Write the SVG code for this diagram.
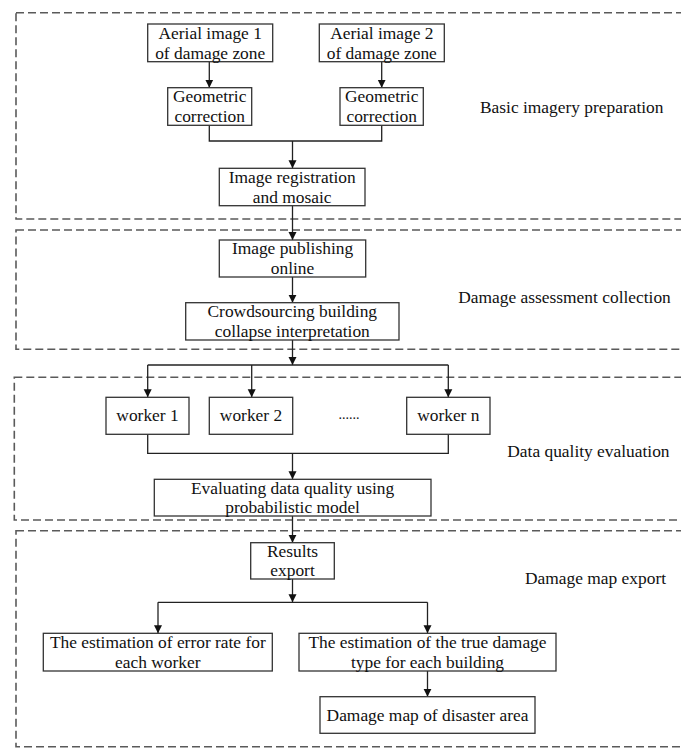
<svg xmlns="http://www.w3.org/2000/svg" width="681" height="749" viewBox="0 0 681 749">
<style>
.bg{fill:#ffffff}
.sec{fill:none;stroke:#5a5a5a;stroke-width:1.6;stroke-dasharray:8 4}
.box{fill:#ffffff;stroke:#333333;stroke-width:1.3}
.t{font-family:"Liberation Serif","Times New Roman",serif;font-size:17.4px;fill:#111111;text-anchor:middle}
.lab{font-family:"Liberation Serif","Times New Roman",serif;font-size:17.4px;fill:#111111}
.c{fill:none;stroke:#222222;stroke-width:1.3}
</style>
<defs>
<marker id="ah" viewBox="0 0 8 10" refX="8" refY="5" markerWidth="8" markerHeight="10" markerUnits="userSpaceOnUse" orient="auto">
<path d="M0,1 L8,5 L0,9 z" fill="#111111"/>
</marker>
</defs>
<rect class="bg" x="0" y="0" width="681" height="749"/>

<g id="sections">
<rect class="sec" x="16" y="12.7" width="680" height="206.3"/>
<rect class="sec" x="16" y="230" width="680" height="119.3"/>
<rect class="sec" x="14.3" y="377.3" width="680" height="142.7"/>
<rect class="sec" x="16" y="530.7" width="680" height="216"/>
<text class="lab" x="480" y="113">Basic imagery preparation</text>
<text class="lab" x="458.3" y="302.7">Damage assessment collection</text>
<text class="lab" x="507.3" y="456.7">Data quality evaluation</text>
<text class="lab" x="525" y="584">Damage map export</text>
</g>

<g id="connectors">
<line class="c" x1="209.3" y1="61.7" x2="209.3" y2="87.7" marker-end="url(#ah)"/>
<line class="c" x1="381.7" y1="61.7" x2="381.7" y2="87.7" marker-end="url(#ah)"/>
<polyline class="c" points="209.3,125.3 209.3,141 381.7,141 381.7,125.3"/>
<line class="c" x1="292.5" y1="141" x2="292.5" y2="168.3" marker-end="url(#ah)"/>
<line class="c" x1="292.5" y1="205.7" x2="292.5" y2="240" marker-end="url(#ah)"/>
<line class="c" x1="292.5" y1="277" x2="292.5" y2="302.7" marker-end="url(#ah)"/>
<line class="c" x1="292.5" y1="340" x2="292.5" y2="365" marker-end="url(#ah)"/>
<line class="c" x1="147.7" y1="365" x2="448.3" y2="365"/>
<line class="c" x1="147.7" y1="365" x2="147.7" y2="397.3" marker-end="url(#ah)"/>
<line class="c" x1="251.7" y1="365" x2="251.7" y2="397.3" marker-end="url(#ah)"/>
<line class="c" x1="448.3" y1="365" x2="448.3" y2="397.3" marker-end="url(#ah)"/>
<polyline class="c" points="147.7,434.3 147.7,453.3 448.3,453.3 448.3,434.3"/>
<line class="c" x1="292.5" y1="453.3" x2="292.5" y2="479.3" marker-end="url(#ah)"/>
<line class="c" x1="292.5" y1="516" x2="292.5" y2="542.7" marker-end="url(#ah)"/>
<line class="c" x1="292.5" y1="579" x2="292.5" y2="602.3" marker-end="url(#ah)"/>
<line class="c" x1="158" y1="602.3" x2="427.5" y2="602.3"/>
<line class="c" x1="158" y1="602.3" x2="158" y2="633.3" marker-end="url(#ah)"/>
<line class="c" x1="427.5" y1="602.3" x2="427.5" y2="633.3" marker-end="url(#ah)"/>
<line class="c" x1="427.5" y1="671" x2="427.5" y2="696.7" marker-end="url(#ah)"/>
</g>

<g id="aerial1">
<rect class="box" x="147.7" y="24" width="125" height="37.7"/>
<text class="t" x="210.2" y="38.5">Aerial image 1</text>
<text class="t" x="210.2" y="58.8">of damage zone</text>
</g>
<g id="aerial2">
<rect class="box" x="319.3" y="24" width="125" height="37.7"/>
<text class="t" x="381.8" y="38.5">Aerial image 2</text>
<text class="t" x="381.8" y="58.8">of damage zone</text>
</g>
<g id="geo1">
<rect class="box" x="167.7" y="87.7" width="84" height="37.6"/>
<text class="t" x="209.7" y="102">Geometric</text>
<text class="t" x="209.7" y="122.3">correction</text>
</g>
<g id="geo2">
<rect class="box" x="340" y="87.7" width="83.3" height="37.6"/>
<text class="t" x="381.7" y="102">Geometric</text>
<text class="t" x="381.7" y="122.3">correction</text>
</g>
<g id="registration">
<rect class="box" x="219.3" y="168.3" width="145.7" height="37.4"/>
<text class="t" x="292.2" y="182.6">Image registration</text>
<text class="t" x="292.2" y="202.8">and mosaic</text>
</g>
<g id="publishing">
<rect class="box" x="219.3" y="240" width="146.4" height="37"/>
<text class="t" x="292.5" y="254.2">Image publishing</text>
<text class="t" x="292.5" y="274.4">online</text>
</g>
<g id="crowdsourcing">
<rect class="box" x="185.7" y="302.7" width="213.3" height="37.3"/>
<text class="t" x="292.3" y="317">Crowdsourcing building</text>
<text class="t" x="292.3" y="337.2">collapse interpretation</text>
</g>
<g id="worker1">
<rect class="box" x="106" y="397.3" width="83" height="37"/>
<text class="t" x="147.5" y="421">worker 1</text>
</g>
<g id="worker2">
<rect class="box" x="209.3" y="397.3" width="83.4" height="37"/>
<text class="t" x="251" y="421">worker 2</text>
</g>
<g id="ellipsis">
<text class="t" x="349" y="418.5" style="font-size:14px">......</text>
</g>
<g id="workern">
<rect class="box" x="406.7" y="397.3" width="83.3" height="37"/>
<text class="t" x="448.3" y="421">worker n</text>
</g>
<g id="evaluating">
<rect class="box" x="154.3" y="479.3" width="276.7" height="36.7"/>
<text class="t" x="292.6" y="493.5">Evaluating data quality using</text>
<text class="t" x="292.6" y="513.3">probabilistic model</text>
</g>
<g id="results">
<rect class="box" x="250.7" y="542.7" width="83.6" height="36.3"/>
<text class="t" x="292.5" y="556.6">Results</text>
<text class="t" x="292.5" y="576.4">export</text>
</g>
<g id="errorrate">
<rect class="box" x="43.3" y="633.3" width="229" height="37.7"/>
<text class="t" x="157.8" y="647.6">The estimation of error rate for</text>
<text class="t" x="157.8" y="667.6">each worker</text>
</g>
<g id="truedamage">
<rect class="box" x="299" y="633.3" width="257" height="37.7"/>
<text class="t" x="427.5" y="647.6">The estimation of the true damage</text>
<text class="t" x="427.5" y="667.6">type for each building</text>
</g>
<g id="damagemap">
<rect class="box" x="320" y="696.7" width="215" height="36.6"/>
<text class="t" x="427.5" y="720.5">Damage map of disaster area</text>
</g>
</svg>
